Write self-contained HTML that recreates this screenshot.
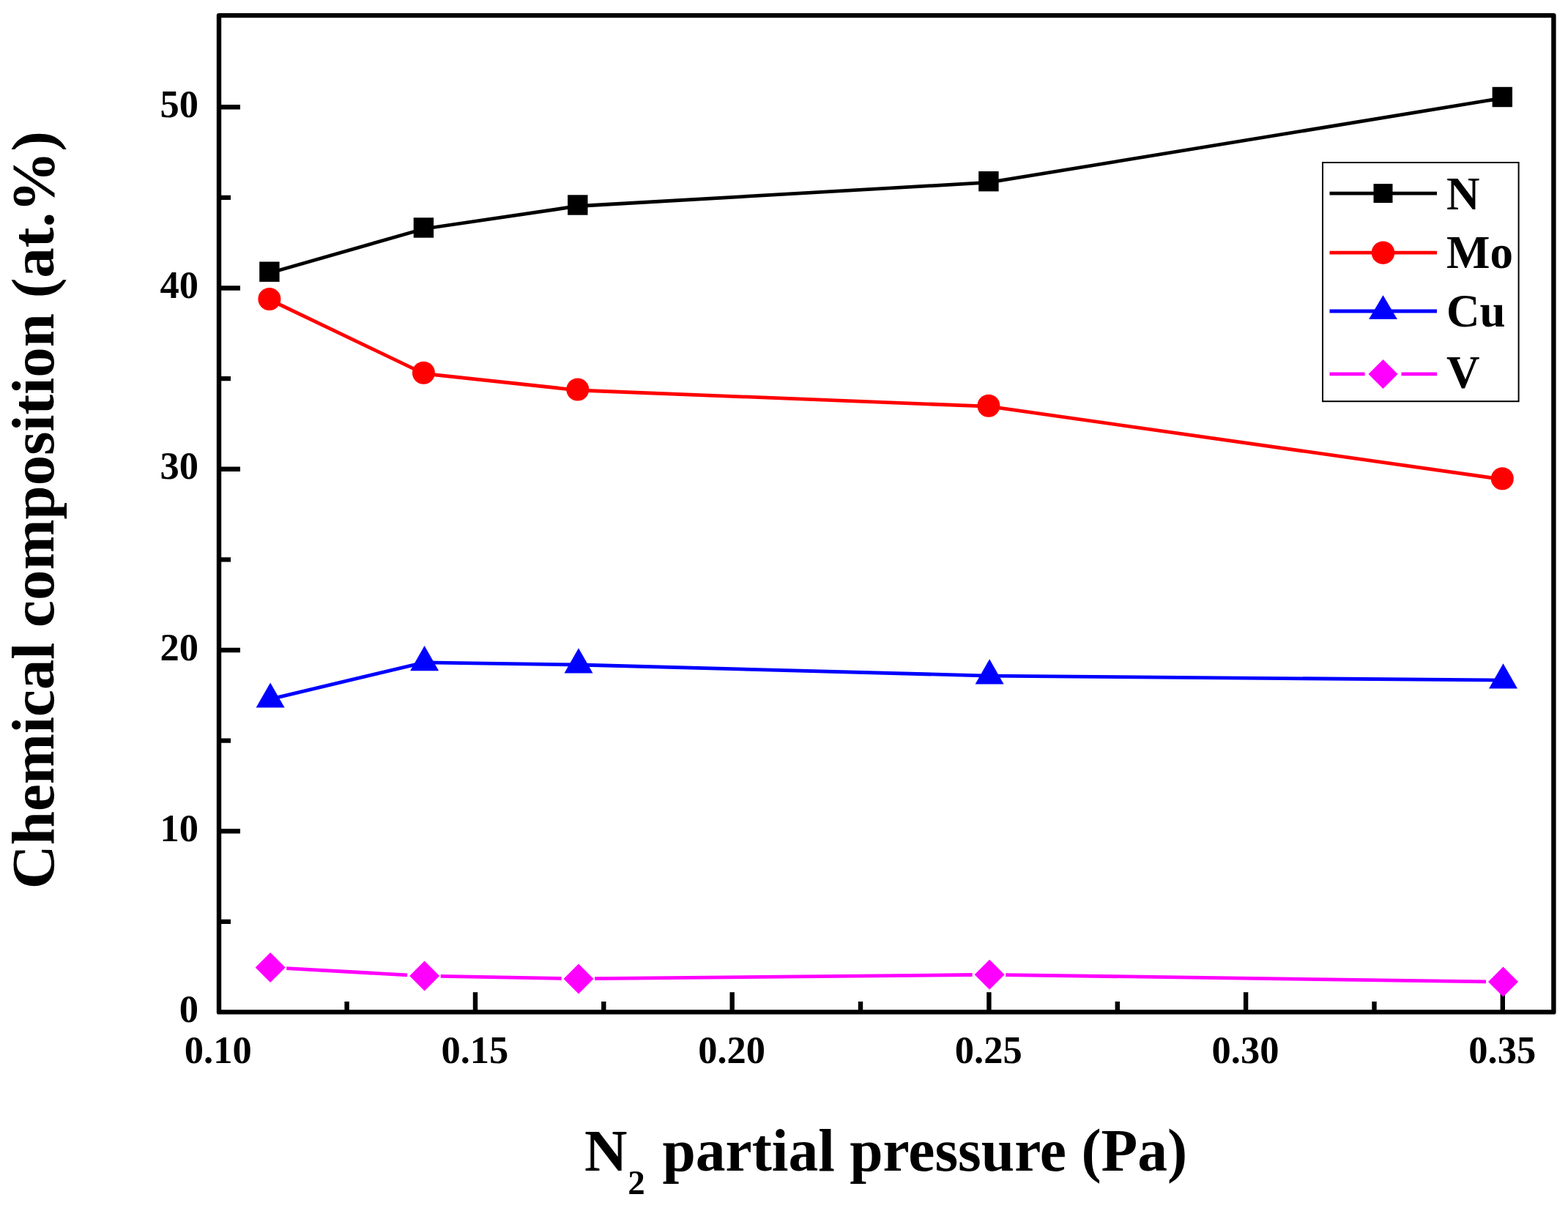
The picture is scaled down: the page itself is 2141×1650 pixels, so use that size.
<!DOCTYPE html><html><head><meta charset="utf-8"><title>Chemical composition vs N2 partial pressure</title>
<style>html,body{margin:0;padding:0;background:#fff;}svg{display:block;}text{font-family:"Liberation Serif","Times New Roman",serif;font-weight:bold;fill:#000;}</style></head><body>
<svg width="2141" height="1650" viewBox="0 0 2141 1650">
<rect width="2141" height="1650" fill="#fff"/>
<path d="M299.0 1135.2H328.0M299.0 888.0H328.0M299.0 640.8H328.0M299.0 393.5H328.0M299.0 146.2H328.0M299.0 1258.9H315.0M299.0 1011.6H315.0M299.0 764.4H315.0M299.0 517.1H315.0M299.0 269.9H315.0M649.0 1382.4V1355.2M999.7 1382.4V1355.2M1350.4 1382.4V1355.2M1701.1 1382.4V1355.2M2051.8 1382.4V1355.2M473.6 1382.4V1368.0M824.3 1382.4V1368.0M1175.0 1382.4V1368.0M1525.8 1382.4V1368.0M1876.5 1382.4V1368.0" stroke="#000" stroke-width="6.4" fill="none"/>
<rect x="299.0" y="21.1" width="1822.4" height="1361.3" fill="none" stroke="#000" stroke-width="6.4" stroke-linejoin="round"/>
<text x="271" y="1396.0" font-size="52.5" text-anchor="end">0</text>
<text x="271" y="1148.8" font-size="52.5" text-anchor="end">10</text>
<text x="271" y="901.5" font-size="52.5" text-anchor="end">20</text>
<text x="271" y="654.2" font-size="52.5" text-anchor="end">30</text>
<text x="271" y="407.0" font-size="52.5" text-anchor="end">40</text>
<text x="271" y="159.8" font-size="52.5" text-anchor="end">50</text>
<text x="297.7" y="1451.5" font-size="52.5" text-anchor="middle">0.10</text>
<text x="648.4" y="1451.5" font-size="52.5" text-anchor="middle">0.15</text>
<text x="999.1" y="1451.5" font-size="52.5" text-anchor="middle">0.20</text>
<text x="1349.8" y="1451.5" font-size="52.5" text-anchor="middle">0.25</text>
<text x="1700.5" y="1451.5" font-size="52.5" text-anchor="middle">0.30</text>
<text x="2051.2" y="1451.5" font-size="52.5" text-anchor="middle">0.35</text>
<text transform="translate(73 1214.2) rotate(-90)" font-size="83">Chemical composition (at.%)</text>
<text x="798" y="1599.3" font-size="81">N</text>
<text x="857.2" y="1630.6" font-size="47">2</text>
<text x="904.4" y="1599.3" font-size="81.5">partial pressure (Pa)</text>
<polyline points="368.4,372.7 578.9,312.5 789.3,281.5 1350.4,249.2 2051.8,134.0" fill="none" stroke="#000" stroke-width="4.8"/>
<polyline points="368.4,409.5 578.9,510.3 789.3,533.0 1350.4,555.2 2051.8,654.8" fill="none" stroke="#f00" stroke-width="4.8"/>
<polyline points="368.4,955.2 578.9,904.8 789.3,908.0 1350.4,923.1 2051.8,929.1" fill="none" stroke="#00f" stroke-width="4.8"/>
<path d="M391.2 1322.7L556.1 1331.8M601.7 1333.4L766.5 1336.5M812.1 1336.7L1327.6 1331.5M1373.2 1331.6L2029.0 1340.8" fill="none" stroke="#f0f" stroke-width="4.8"/>
<rect x="354.2" y="357.5" width="27.4" height="27.4" fill="#000"/>
<rect x="564.7" y="297.3" width="27.4" height="27.4" fill="#000"/>
<rect x="775.1" y="266.3" width="27.4" height="27.4" fill="#000"/>
<rect x="1336.2" y="234.0" width="27.4" height="27.4" fill="#000"/>
<rect x="2037.6" y="118.8" width="27.4" height="27.4" fill="#000"/>
<circle cx="367.9" cy="408.5" r="15.5" fill="#f00"/>
<circle cx="578.4" cy="509.3" r="15.5" fill="#f00"/>
<circle cx="788.8" cy="532.0" r="15.5" fill="#f00"/>
<circle cx="1349.9" cy="554.2" r="15.5" fill="#f00"/>
<circle cx="2051.3" cy="653.8" r="15.5" fill="#f00"/>
<polygon points="369.1,932.4 388.6,966.6 349.6,966.6" fill="#00f"/>
<polygon points="579.6,882.0 599.1,916.2 560.1,916.2" fill="#00f"/>
<polygon points="790.0,885.2 809.5,919.4 770.5,919.4" fill="#00f"/>
<polygon points="1351.1,900.3 1370.6,934.5 1331.6,934.5" fill="#00f"/>
<polygon points="2052.5,906.3 2072.0,940.5 2033.0,940.5" fill="#00f"/>
<polygon points="369.1,1301.0 389.6,1321.5 369.1,1342.0 348.6,1321.5" fill="#f0f"/>
<polygon points="579.6,1312.5 600.1,1333.0 579.6,1353.5 559.1,1333.0" fill="#f0f"/>
<polygon points="790.0,1316.4 810.5,1336.9 790.0,1357.4 769.5,1336.9" fill="#f0f"/>
<polygon points="1351.1,1310.8 1371.6,1331.3 1351.1,1351.8 1330.6,1331.3" fill="#f0f"/>
<polygon points="2052.5,1320.6 2073.0,1341.1 2052.5,1361.6 2032.0,1341.1" fill="#f0f"/>
<rect x="1806" y="222" width="267.6" height="326.2" fill="none" stroke="#000" stroke-width="2"/>
<path d="M1815.5 264.1H1962" stroke="#000" stroke-width="4.8" fill="none"/>
<rect x="1875.5" y="251.1" width="26" height="26" fill="#000"/>
<text x="1975" y="285.9" font-size="63">N</text>
<path d="M1815.5 345.2H1962" stroke="#f00" stroke-width="4.8" fill="none"/>
<circle cx="1888.5" cy="345.2" r="15.8" fill="#f00"/>
<text x="1975" y="365.5" font-size="63">Mo</text>
<path d="M1815.5 425.0H1962" stroke="#00f" stroke-width="4.8" fill="none"/>
<polygon points="1888.5,403.3 1907.9,435.9 1869.1,435.9" fill="#00f"/>
<text x="1975" y="445.7" font-size="63">Cu</text>
<path d="M1815.5 510.9H1863.5M1913.5 510.9H1962" stroke="#f0f" stroke-width="4.8" fill="none"/>
<polygon points="1888.5,490.9 1908.5,510.9 1888.5,530.9 1868.5,510.9" fill="#f0f"/>
<text x="1975" y="529.8" font-size="63">V</text>
</svg></body></html>
